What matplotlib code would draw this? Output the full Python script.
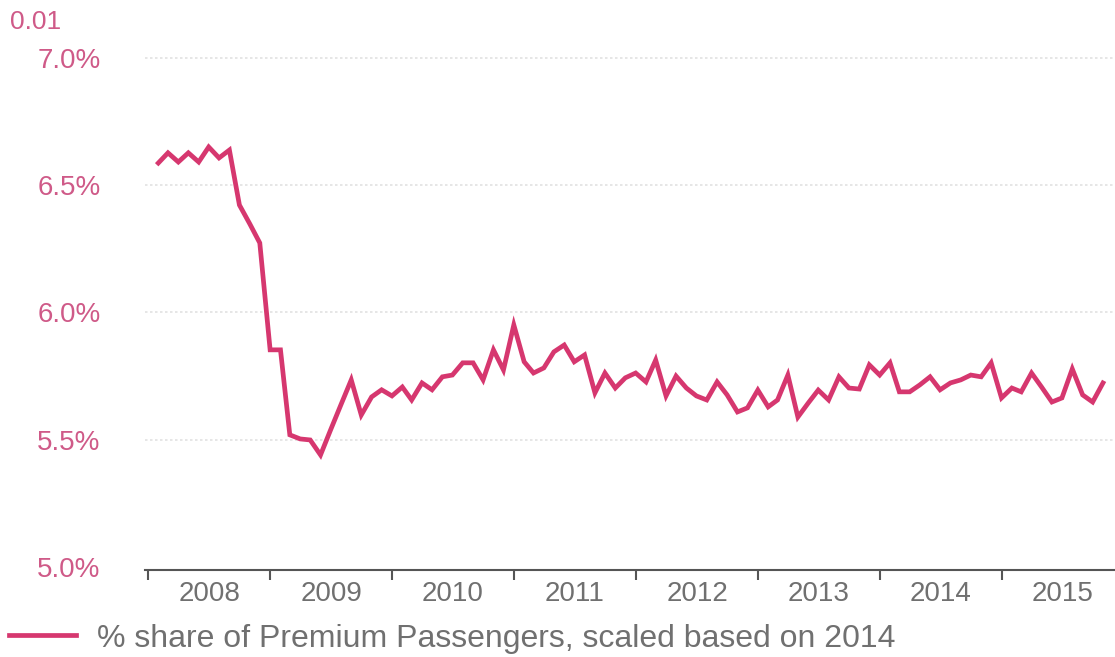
import matplotlib
matplotlib.use("Agg")
import matplotlib.pyplot as plt
import matplotlib.dates as mdates
import pandas as pd
from matplotlib.ticker import FuncFormatter, FixedLocator

plt.rcParams['font.family'] = ['Liberation Sans', 'DejaVu Sans']

# monthly premium share (%), Jan 2008 - Oct 2015
share_pct = [
    6.587, 6.627, 6.591, 6.627, 6.591, 6.650, 6.607, 6.638, 6.422, 6.348, 6.273, 5.853,
    5.853, 5.519, 5.503, 5.499, 5.440, 5.538, 5.637, 5.735, 5.597, 5.668, 5.696, 5.672,
    5.707, 5.656, 5.723, 5.696, 5.747, 5.754, 5.802, 5.802, 5.735, 5.853, 5.774, 5.951,
    5.806, 5.762, 5.782, 5.845, 5.872, 5.806, 5.833, 5.684, 5.762, 5.703, 5.743, 5.762,
    5.727, 5.813, 5.672, 5.750, 5.703, 5.672, 5.656, 5.727, 5.676, 5.609, 5.625, 5.695,
    5.629, 5.656, 5.754, 5.589, 5.644, 5.695, 5.656, 5.747, 5.703, 5.699, 5.794, 5.754,
    5.802, 5.688, 5.688, 5.715, 5.747, 5.696, 5.723, 5.735, 5.754, 5.747, 5.802, 5.664,
    5.703, 5.688, 5.762, 5.707, 5.648, 5.664, 5.778, 5.676, 5.648, 5.723,
]
months = pd.date_range('2008-01-31', periods=len(share_pct), freq='ME')
years = list(range(2008, 2016))
y_ticks = [5.0, 5.5, 6.0, 6.5, 7.0]
series_label = '% share of Premium Passengers, scaled based on 2014'

line_color = '#d6376f'
label_pink = '#cf5a88'
gray = '#707070'

fig = plt.figure(figsize=(11.15, 6.57), dpi=100)
ax = fig.add_axes([0.130, 0.1324, 0.870, 0.8066])

ax.plot(months, share_pct, color=line_color, lw=3.4, solid_joinstyle='miter',
        label=series_label)

ax.set_xlim(pd.Timestamp('2007-12-22'), pd.Timestamp('2015-12-06'))
ax.set_ylim(4.988, 7.07)

# y axis
ax.set_yticks(y_ticks)
ax.yaxis.set_major_formatter(FuncFormatter(lambda v, p: f'{v:.1f}%'))
ax.tick_params(axis='y', length=0, pad=32, labelsize=20, labelcolor=label_pink)
for v in y_ticks[1:]:
    ax.axhline(v, color='#e2e2e2', lw=1.2, ls=(0, (1.5, 1.5)), zorder=0)

# x axis: ticks at year boundaries, labels mid-year
ax.xaxis.set_major_locator(FixedLocator([mdates.date2num(pd.Timestamp(f'{y}-01-01')) for y in years]))
ax.xaxis.set_major_formatter(FuncFormatter(lambda v, p: ''))
ax.xaxis.set_minor_locator(FixedLocator([mdates.date2num(pd.Timestamp(f'{y}-07-02')) for y in years]))
ax.set_xticklabels([str(y) for y in years], minor=True)
ax.tick_params(axis='x', which='major', length=7, width=1.5, color='#555555', direction='out')
ax.tick_params(axis='x', which='minor', length=0, pad=8, labelsize=20, labelcolor=gray)

for s in ['top', 'right', 'left']:
    ax.spines[s].set_visible(False)
ax.spines['bottom'].set_color('#555555')
ax.spines['bottom'].set_linewidth(1.5)

fig.text(0.009, 0.967, '0.01', color=label_pink, fontsize=19, va='center', ha='left')

fig.legend(loc='center left', bbox_to_anchor=(0.008, 0.028), frameon=False,
           fontsize=23, handlelength=2.1, handletextpad=0.65, borderpad=0,
           borderaxespad=0, labelcolor=gray)

fig.savefig('out.png', dpi=100)
